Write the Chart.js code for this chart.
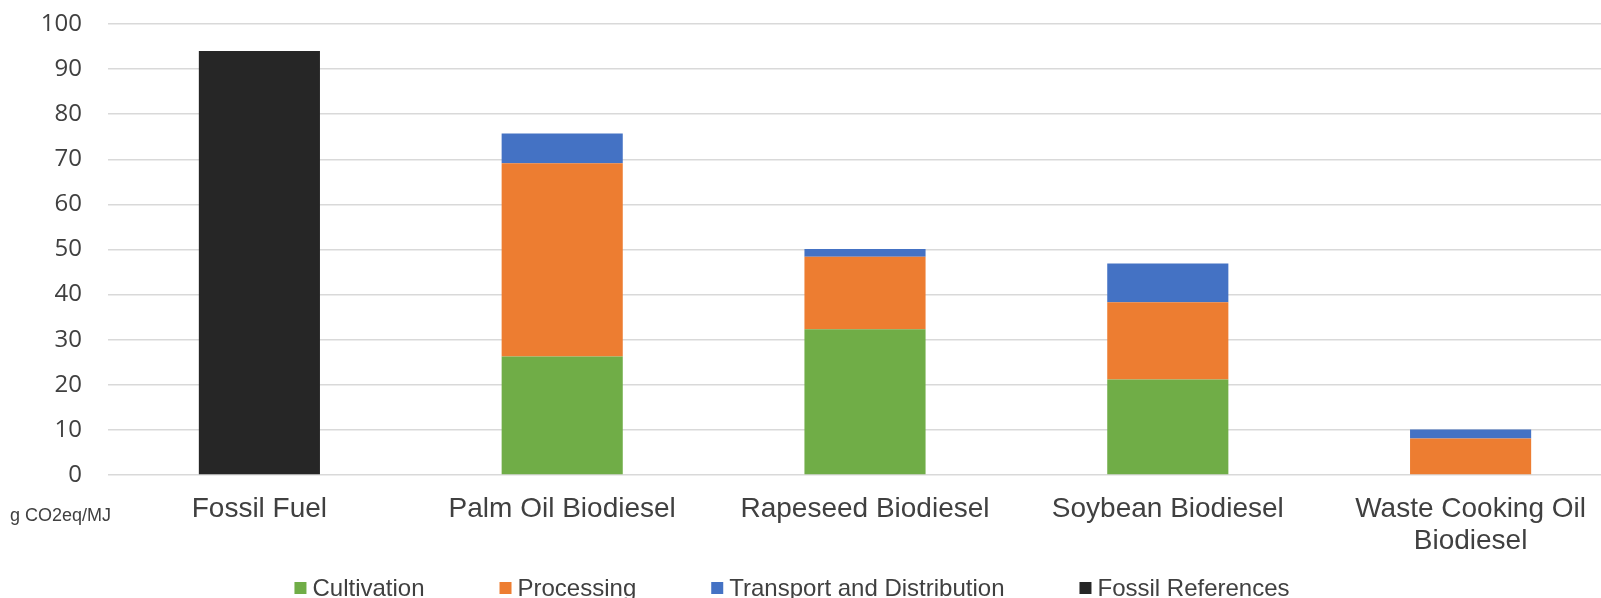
<!DOCTYPE html>
<html>
<head>
<meta charset="utf-8">
<title>GHG emissions of biodiesel pathways</title>
<script src="https://cdn.jsdelivr.net/npm/chart.js@4"></script>
<style>
    html, body { margin: 0; padding: 0; background: #ffffff; overflow: hidden; }
    #ghg_chart { display: block; }
</style>
</head>
<body>
<canvas id="ghg_chart" width="1622" height="598"></canvas>
<script>
    'use strict';

    // values (g CO2eq/MJ)
    var categories = ['Fossil Fuel', 'Palm Oil Biodiesel', 'Rapeseed Biodiesel', 'Soybean Biodiesel', ['Waste Cooking Oil', 'Biodiesel']];
    var cultivation = [null, 26.3, 32.3, 21.2, null];
    var processing = [null, 42.8, 16.1, 17.1, 8.1];
    var transport = [null, 6.6, 1.7, 8.6, 2.0];
    var fossilReferences = [94, null, null, null, null];
    var seriesNames = ['Cultivation', 'Processing', 'Transport and Distribution', 'Fossil References'];
    var yTicks = [0, 10, 20, 30, 40, 50, 60, 70, 80, 90, 100];
    var unitLabel = 'g CO2eq/MJ';

    var textColor = '#404040';
    var sansFont = '"Liberation Sans", Arial, sans-serif';

    // unit text under the y axis, left of the first category
    var unitLabelPlugin = {
        id: 'unitLabel',
        afterDraw: function (chart) {
            var ctx = chart.ctx;
            ctx.save();
            ctx.font = '18px ' + sansFont;
            ctx.fillStyle = textColor;
            ctx.textAlign = 'left';
            ctx.textBaseline = 'middle';
            ctx.fillText(unitLabel, 10, chart.chartArea.bottom + 41);
            ctx.restore();
        }
    };

    // legend row at the bottom, wide gaps between items like the original
    var bottomLegendPlugin = {
        id: 'bottomLegend',
        afterDraw: function (chart) {
            var ctx = chart.ctx;
            var datasets = chart.data.datasets;
            var gap = 75;
            ctx.save();
            ctx.font = '24px ' + sansFont;
            ctx.textAlign = 'left';
            ctx.textBaseline = 'middle';
            var widths = datasets.map(function (ds) {
                return 18 + ctx.measureText(ds.label).width;
            });
            var total = widths.reduce(function (a, b) { return a + b; }, 0) + gap * (datasets.length - 1);
            var x = 792 - total / 2;
            var y = 589;
            datasets.forEach(function (ds, i) {
                ctx.fillStyle = ds.backgroundColor;
                ctx.fillRect(x, y - 7, 12, 12);
                ctx.fillStyle = textColor;
                ctx.fillText(ds.label, x + 18, y);
                x += widths[i] + gap;
            });
            ctx.restore();
        }
    };

    var canvas = document.getElementById('ghg_chart');
    var ghgChart = new Chart(canvas, {
        type: 'bar',
        data: {
            labels: categories,
            datasets: [{
                label: seriesNames[0],
                data: cultivation,
                backgroundColor: '#70AD47',
            }, {
                label: seriesNames[1],
                data: processing,
                backgroundColor: '#ED7D31',
            }, {
                label: seriesNames[2],
                data: transport,
                backgroundColor: '#4472C4',
            }, {
                label: seriesNames[3],
                data: fossilReferences,
                backgroundColor: '#262626',
            }]
        },
        options: {
            responsive: false,
            animation: false,
            devicePixelRatio: 1,
            layout: {
                padding: { top: 24, left: 0, right: 0, bottom: 0 }
            },
            datasets: {
                bar: {
                    categoryPercentage: 1,
                    barPercentage: 0.4,
                    borderWidth: 0,
                }
            },
            scales: {
                x: {
                    stacked: true,
                    grid: { display: false, drawTicks: false },
                    border: { display: false },
                    ticks: {
                        padding: 18,
                        maxRotation: 0,
                        autoSkip: false,
                        color: textColor,
                        font: { family: sansFont, size: 28, lineHeight: 1.15 }
                    },
                    afterFit: function (scale) {
                        // room below the plot for labels and the legend row
                        scale.height = 123;
                    }
                },
                y: {
                    stacked: true,
                    min: 0,
                    max: 100,
                    afterBuildTicks: function (scale) {
                        scale.ticks = yTicks.map(function (v) { return { value: v }; });
                    },
                    grid: {
                        color: '#d9d9d9',
                        lineWidth: 1.5,
                        drawTicks: true,
                        tickLength: 26,
                        tickColor: 'rgba(0,0,0,0)'
                    },
                    border: { display: false },
                    ticks: {
                        padding: 0,
                        color: textColor,
                        font: { family: '"Open Sans", sans-serif', size: 24 }
                    },
                    afterFit: function (scale) {
                        scale.width = 108;
                    }
                }
            },
            plugins: {
                tooltip: { enabled: false },
                legend: { display: false }
            }
        },
        plugins: [unitLabelPlugin, bottomLegendPlugin]
    });
</script>
</body>
</html>
